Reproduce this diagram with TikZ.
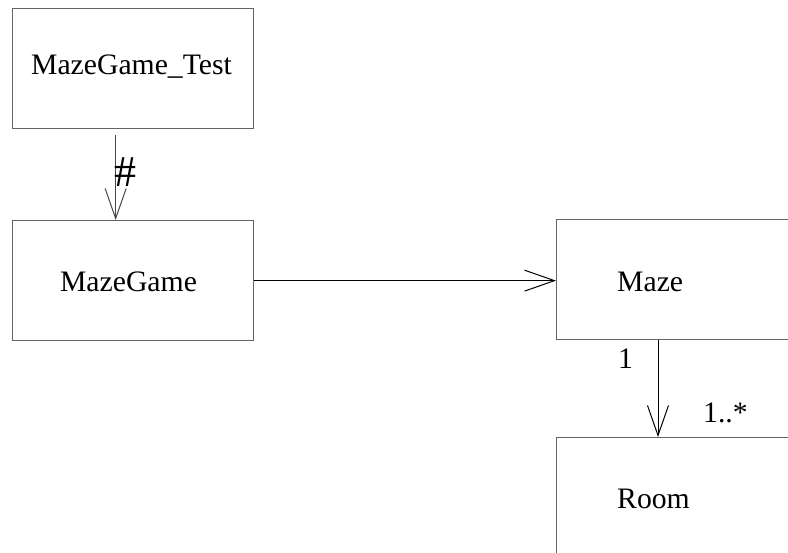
\documentclass[tikz,border=0pt]{standalone}
\usepackage{fontspec}
\setmainfont{Liberation Serif}
\usetikzlibrary{arrows.meta}
\definecolor{boxline}{RGB}{100,100,100}
\tikzset{
  classbox/.style={draw=boxline, line width=1.3pt, fill=white, inner sep=0pt, anchor=north west},
  lbl/.style={inner sep=0pt, font=\fontsize{29.7}{34}\selectfont},
  assoc/.style={line width=1pt, -{Straight Barb[length=30pt, width=21pt, line width=1pt]}},
}
\begin{document}
\begin{tikzpicture}[x=1pt, y=-1pt]
  \useasboundingbox (0,0) rectangle (788,553);
  \fill[white] (0,0) rectangle (788,553);
  \begin{scope}
    \clip (0,0) rectangle (788,553);
    % class boxes
    \node[classbox, minimum width=241pt, minimum height=120pt] (test) at (12,8) {};
    \node[classbox, minimum width=241pt, minimum height=120pt] (game) at (12,220) {};
    \node[classbox, minimum width=244pt, minimum height=120pt] (maze) at (556,219) {};
    \node[classbox, minimum width=244pt, minimum height=130pt] (room) at (556,437) {};
    % class names
    \node[lbl, anchor=base] (testname) at (131.5,75) {MazeGame\_Test};
    \node[lbl, anchor=base] (gamename) at (128.5,292) {MazeGame};
    \node[lbl, anchor=base west] (mazename) at (617,292) {Maze};
    \node[lbl, anchor=base west] (roomname) at (617,508) {Room};
    % dependency MazeGame_Test -> MazeGame
    \draw[assoc, draw=boxline!70!black] ([xshift=-17.5pt, yshift=-6pt]test.south) -- ([xshift=-17.5pt]game.north);
    \node[inner sep=0pt, font=\fontsize{44}{48}\selectfont, anchor=base west] (hash) at (114.5,187) {\#};
    % association MazeGame -> Maze
    \draw[assoc] (game.east) -- (game.east -| maze.west);
    % association Maze -> Room
    \draw[assoc] ([xshift=102pt]maze.south west) -- ([xshift=102pt]maze.south west |- room.north);
    \node[lbl, anchor=base west] (mult1) at (618,369) {1};
    \node[lbl, anchor=base west] (mult2) at (703,423) {1..*};
  \end{scope}
\end{tikzpicture}
\end{document}
